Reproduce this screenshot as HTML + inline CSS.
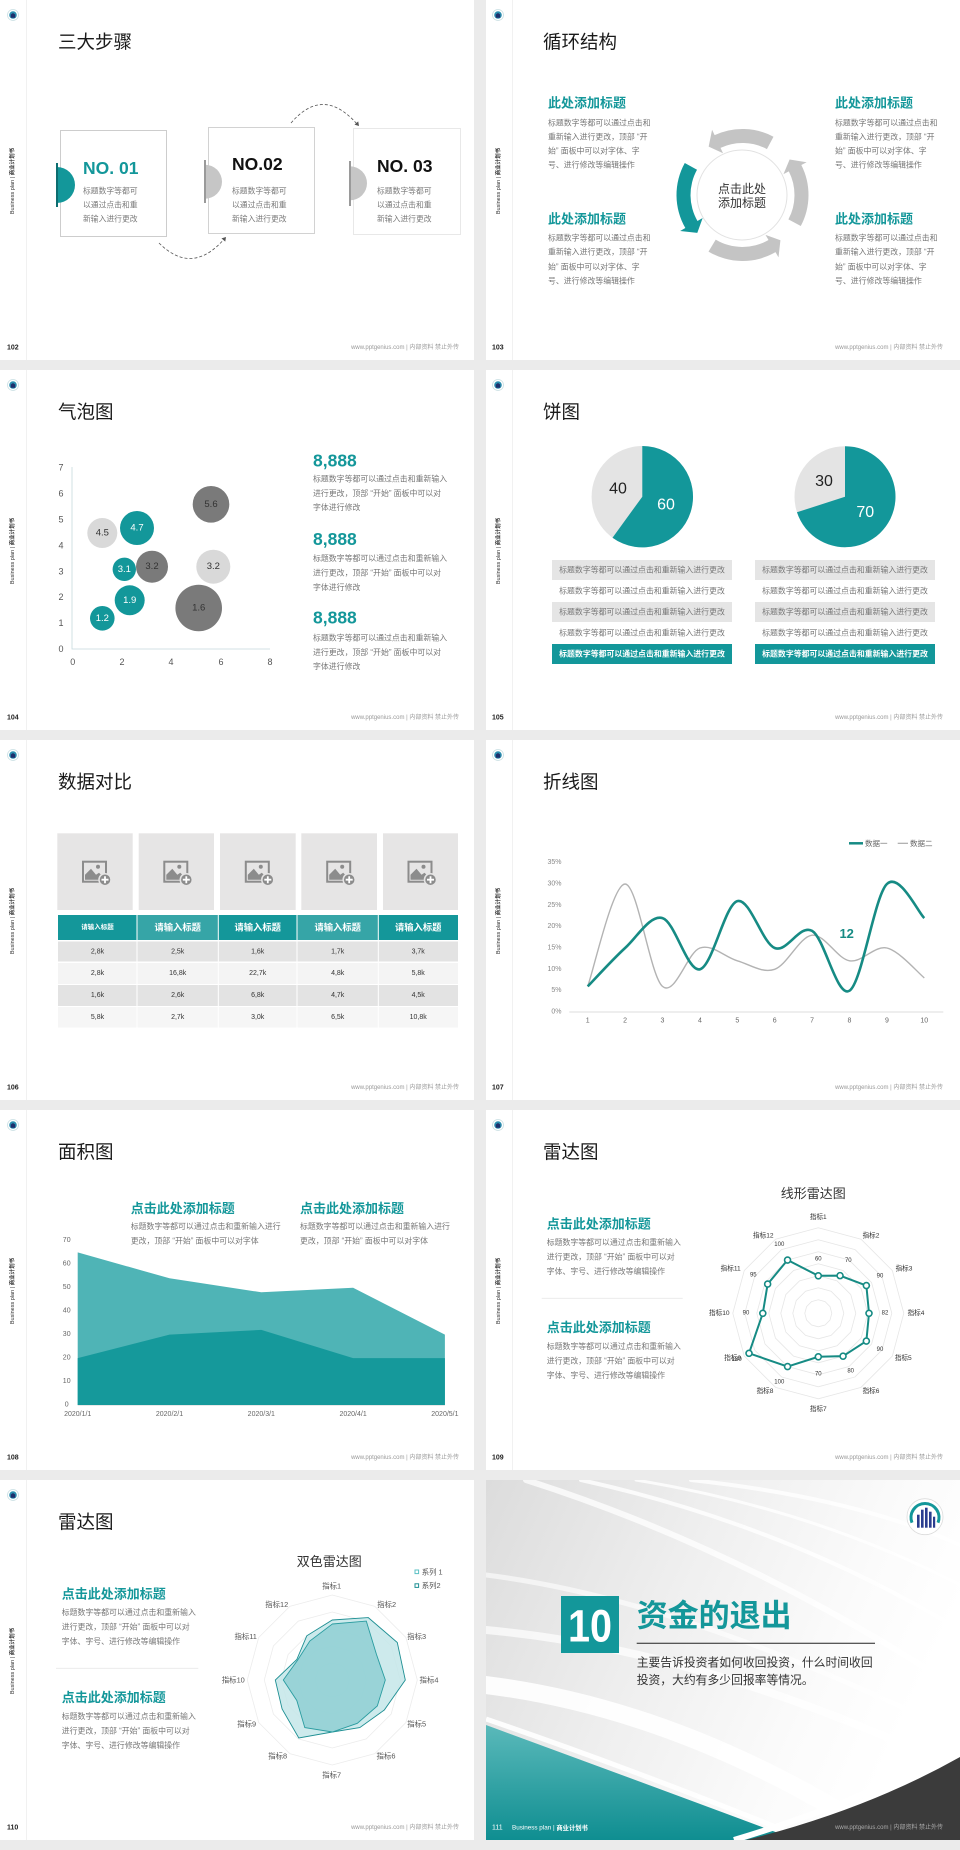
<!DOCTYPE html>
<html><head><meta charset="utf-8">
<style>
html,body{margin:0;padding:0;background:#ebebeb;}
#pg{position:relative;width:960px;height:1850px;background:#ebebeb;overflow:hidden;}
svg.s{position:absolute;display:block;}
text{font-family:"Liberation Sans","Noto Sans CJK SC",sans-serif;dominant-baseline:central;}
</style></head><body><div id="pg">

<svg width="0" height="0" style="position:absolute">
<defs>
<g id="logo"><circle r="5.5" fill="#fff" stroke="#c9dfe3" stroke-width="0.8"/><circle r="3.8" fill="#2b8fb0"/><path d="M-2.2,2.8 V-0.5 L0,-2 L2.2,-0.5 V2.8 Z" fill="#1f2f6b"/></g>
<path id="dodec" vector-effect="non-scaling-stroke" d="M0,-1 L0.5,-0.866 L0.866,-0.5 L1,0 L0.866,0.5 L0.5,0.866 L0,1 L-0.5,0.866 L-0.866,0.5 L-1,0 L-0.866,-0.5 L-0.5,-0.866 Z"/>
<g id="imgicon">
<rect x="-12" y="-10" width="23" height="20" fill="none" stroke="#8c8c8c" stroke-width="2"/>
<path d="M-10,8 L-10,3 L-4,-3 L1,3 L4,1 L9,6 L9,8 Z" fill="#8c8c8c"/>
<circle cx="3" cy="-5" r="2" fill="#8c8c8c"/>
<circle cx="10" cy="8" r="6" fill="#8c8c8c" stroke="#e6e5e5" stroke-width="1.5"/>
<path d="M10,4.5 V11.5 M6.5,8 H13.5" stroke="#fff" stroke-width="1.8"/>
</g>
<linearGradient id="g111bg" x1="0" y1="0" x2="1" y2="0.35">
<stop offset="0" stop-color="#dcdcdc"/><stop offset="0.45" stop-color="#efefef"/><stop offset="0.8" stop-color="#fbfbfb"/><stop offset="1" stop-color="#ffffff"/>
</linearGradient>
<linearGradient id="g111teal" x1="0" y1="0" x2="0" y2="1">
<stop offset="0" stop-color="#5ab9ba"/><stop offset="1" stop-color="#0f8e91"/>
</linearGradient>
</defs>
</svg>

<!-- 102 -->
<svg class="s" style="left:0;top:0" width="474" height="360" viewBox="0 0 474 360">
<rect width="474" height="360" fill="#fff"/>
<line x1="26.5" y1="0" x2="26.5" y2="360" stroke="#f1f1f1"/>
<use href="#logo" x="13" y="15"/>
<text transform="translate(13,181) rotate(-90)" text-anchor="middle" font-size="5.5" fill="#333">Business plan | <tspan font-weight="bold">商业计划书</tspan></text>
<text x="7" y="348" font-size="7" font-weight="bold" fill="#222">102</text>
<text x="459" y="348" font-size="6" fill="#999" text-anchor="end">www.pptgenius.com | 内部资料 禁止外传</text>
<text x="58" y="42" font-size="18.5" fill="#1a1a1a">三大步骤</text>

<rect x="60.5" y="130.5" width="106" height="106" fill="#fff" stroke="#cdcdcd"/>
<rect x="208.5" y="127.5" width="106" height="106" fill="#fff" stroke="#d2d2d2"/>
<rect x="353.5" y="128.5" width="107" height="106" fill="#fff" stroke="#e8e8e8"/>
<path d="M57,167 A18,18 0 0 1 57,203 Z" fill="#13979a"/>
<rect x="56" y="163" width="2" height="44" fill="#0d6d70"/>
<path d="M205,164.7 A17,17 0 0 1 205,198.7 Z" fill="#c6c6c6"/>
<rect x="204" y="160" width="2" height="43" fill="#9a9a9a"/>
<path d="M350,166.3 A17,17 0 0 1 350,200.3 Z" fill="#c6c6c6"/>
<rect x="349" y="161" width="2" height="45" fill="#9a9a9a"/>

<text x="83" y="168" font-size="17.5" font-weight="bold" fill="#13979a">NO. 01</text>
<text x="232" y="164" font-size="17.5" font-weight="bold" fill="#111">NO.02</text>
<text x="377" y="166" font-size="17.5" font-weight="bold" fill="#111">NO. 03</text>
<g font-size="7.8" fill="#7a7a7a">
<text x="83" y="191">标题数字等都可</text><text x="83" y="205">以通过点击和重</text><text x="83" y="219">新输入进行更改</text>
<text x="232" y="191">标题数字等都可</text><text x="232" y="205">以通过点击和重</text><text x="232" y="219">新输入进行更改</text>
<text x="377" y="191">标题数字等都可</text><text x="377" y="205">以通过点击和重</text><text x="377" y="219">新输入进行更改</text>
</g>
<path d="M159,243 Q192,276 224.5,238.7" fill="none" stroke="#555" stroke-width="0.8" stroke-dasharray="3,2"/>
<polygon points="226,237 225.26,241.66 221.48,238.38" fill="#555"/>
<path d="M291,123 Q323,85.5 357,124" fill="none" stroke="#555" stroke-width="0.8" stroke-dasharray="3,2"/>
<polygon points="359,126 354.47,124.67 358.21,121.35" fill="#555"/>
</svg>

<!-- 103 -->
<svg class="s" style="left:486px;top:0" width="474" height="360" viewBox="0 0 474 360">
<rect width="474" height="360" fill="#fff"/>
<line x1="26.5" y1="0" x2="26.5" y2="360" stroke="#f1f1f1"/>
<use href="#logo" x="12" y="15"/>
<text transform="translate(13,181) rotate(-90)" text-anchor="middle" font-size="5.5" fill="#333">Business plan | <tspan font-weight="bold">商业计划书</tspan></text>
<text x="6" y="348" font-size="7" font-weight="bold" fill="#222">103</text>
<text x="457" y="348" font-size="6" fill="#999" text-anchor="end">www.pptgenius.com | 内部资料 禁止外传</text>
<text x="57" y="42" font-size="18.5" fill="#1a1a1a">循环结构</text>

<g font-size="13" font-weight="bold" fill="#14979a">
<text x="62" y="103">此处添加标题</text><text x="349" y="103">此处添加标题</text>
<text x="62" y="219">此处添加标题</text><text x="349" y="219">此处添加标题</text>
</g>
<g font-size="7.9" fill="#777">
<text x="62" y="123">标题数字等都可以通过点击和</text><text x="62" y="137">重新输入进行更改，顶部 “开</text><text x="62" y="151">始” 面板中可以对字体、字</text><text x="62" y="165">号、进行修改等编辑操作</text>
<text x="349" y="123">标题数字等都可以通过点击和</text><text x="349" y="137">重新输入进行更改，顶部 “开</text><text x="349" y="151">始” 面板中可以对字体、字</text><text x="349" y="165">号、进行修改等编辑操作</text>
<text x="62" y="238">标题数字等都可以通过点击和</text><text x="62" y="252">重新输入进行更改，顶部 “开</text><text x="62" y="267">始” 面板中可以对字体、字</text><text x="62" y="281">号、进行修改等编辑操作</text>
<text x="349" y="238">标题数字等都可以通过点击和</text><text x="349" y="252">重新输入进行更改，顶部 “开</text><text x="349" y="267">始” 面板中可以对字体、字</text><text x="349" y="281">号、进行修改等编辑操作</text>
</g>
<circle cx="256" cy="195" r="45" fill="#fff" stroke="#e2e2e2" stroke-width="1"/>
<path d="M198.78,163 A66,66 0 0 0 199.34,228 L194.15,231 L211.3,232.93 L216.66,218 L211.47,221 A52,52 0 0 1 211.02,169.79 Z" fill="#13979a"/>
<path d="M222.51,251.57 A66,66 0 0 0 289.5,252.16 L292.5,257.35 L294.43,240.19 L279.5,234.84 L282.5,240.03 A52,52 0 0 1 229.72,239.57 Z" fill="#c4c4c4"/>
<path d="M314.77,225.99 A66,66 0 0 0 315.31,165.04 L320.65,162.31 L303.62,159.49 L297.49,174.12 L302.83,171.39 A52,52 0 0 1 302.41,219.41 Z" fill="#c4c4c4"/>
<path d="M287.49,136.73 A66,66 0 0 0 228.61,135.18 L226.07,129.75 L222.66,146.67 L237.06,153.31 L234.52,147.87 A52,52 0 0 1 280.91,149.09 Z" fill="#c4c4c4"/>
<text x="256" y="189" font-size="12" fill="#333" text-anchor="middle">点击此处</text>
<text x="256" y="203" font-size="12" fill="#333" text-anchor="middle">添加标题</text>
</svg>

<!-- 104 -->
<svg class="s" style="left:0;top:370px" width="474" height="360" viewBox="0 0 474 360">
<rect width="474" height="360" fill="#fff"/>
<line x1="26.5" y1="0" x2="26.5" y2="360" stroke="#f1f1f1"/>
<use href="#logo" x="13" y="15"/>
<text transform="translate(13,181) rotate(-90)" text-anchor="middle" font-size="5.5" fill="#333">Business plan | <tspan font-weight="bold">商业计划书</tspan></text>
<text x="7" y="348" font-size="7" font-weight="bold" fill="#222">104</text>
<text x="459" y="348" font-size="6" fill="#999" text-anchor="end">www.pptgenius.com | 内部资料 禁止外传</text>
<text x="58" y="42" font-size="18.5" fill="#1a1a1a">气泡图</text>

<path d="M72,97 V279 H270" fill="none" stroke="#c5d9dd" stroke-width="0.8"/>
<g font-size="9" fill="#555" text-anchor="middle">
<text x="61" y="279">0</text><text x="61" y="253.1">1</text><text x="61" y="227.2">2</text><text x="61" y="201.3">3</text><text x="61" y="175.4">4</text><text x="61" y="149.5">5</text><text x="61" y="123.6">6</text><text x="61" y="97.7">7</text>
<text x="72.7" y="292">0</text><text x="122" y="292">2</text><text x="171" y="292">4</text><text x="221" y="292">6</text><text x="270" y="292">8</text>
</g>
<circle cx="102.3" cy="163" r="15" fill="#d9d9d9"/>
<circle cx="211" cy="134.3" r="18.3" fill="#7a7a7a"/>
<circle cx="213.3" cy="196.7" r="17" fill="#d9d9d9"/>
<circle cx="198.7" cy="238" r="23.3" fill="#7a7a7a"/>
<circle cx="152" cy="196.7" r="16" fill="#7a7a7a"/>
<circle cx="124.3" cy="199.3" r="11.7" fill="#13979a"/>
<circle cx="129.7" cy="230.3" r="15" fill="#13979a"/>
<circle cx="102.3" cy="248.3" r="12.3" fill="#13979a"/>
<circle cx="137" cy="158" r="17" fill="#13979a"/>
<g font-size="9.5" text-anchor="middle">
<text x="102.3" y="163" fill="#333">4.5</text>
<text x="137" y="158" fill="#fff">4.7</text>
<text x="211" y="134.3" fill="#333">5.6</text>
<text x="213.3" y="196.7" fill="#333">3.2</text>
<text x="152" y="196.7" fill="#333">3.2</text>
<text x="124.3" y="199.3" fill="#fff">3.1</text>
<text x="129.7" y="230.3" fill="#fff">1.9</text>
<text x="102.3" y="248.3" fill="#fff">1.2</text>
<text x="198.7" y="238" fill="#333">1.6</text>
</g>
<g font-size="17.5" font-weight="bold" fill="#14979a">
<text x="313" y="90.7">8,888</text><text x="313" y="169">8,888</text><text x="313" y="247.7">8,888</text>
</g>
<g font-size="7.9" fill="#777">
<text x="313" y="109">标题数字等都可以通过点击和重新输入</text><text x="313" y="123.3">进行更改，顶部 “开始” 面板中可以对</text><text x="313" y="137.3">字体进行修改</text>
<text x="313" y="188.3">标题数字等都可以通过点击和重新输入</text><text x="313" y="203">进行更改，顶部 “开始” 面板中可以对</text><text x="313" y="217.3">字体进行修改</text>
<text x="313" y="268">标题数字等都可以通过点击和重新输入</text><text x="313" y="282.7">进行更改，顶部 “开始” 面板中可以对</text><text x="313" y="296.7">字体进行修改</text>
</g>
</svg>

<!-- 105 -->
<svg class="s" style="left:486px;top:370px" width="474" height="360" viewBox="0 0 474 360">
<rect width="474" height="360" fill="#fff"/>
<line x1="26.5" y1="0" x2="26.5" y2="360" stroke="#f1f1f1"/>
<use href="#logo" x="12" y="15"/>
<text transform="translate(13,181) rotate(-90)" text-anchor="middle" font-size="5.5" fill="#333">Business plan | <tspan font-weight="bold">商业计划书</tspan></text>
<text x="6" y="348" font-size="7" font-weight="bold" fill="#222">105</text>
<text x="457" y="348" font-size="6" fill="#999" text-anchor="end">www.pptgenius.com | 内部资料 禁止外传</text>
<text x="57" y="42" font-size="18.5" fill="#1a1a1a">饼图</text>

<circle cx="156.3" cy="126.7" r="50.7" fill="#e4e4e4"/>
<path d="M156.3,126.7 L156.3,76 A50.7,50.7 0 1 1 126.5,167.7 Z" fill="#13979a"/>
<circle cx="359" cy="126.7" r="50.5" fill="#e4e4e4"/>
<path d="M359,126.7 L359,76.2 A50.5,50.5 0 1 1 310.97,142.3 Z" fill="#13979a"/>
<g font-size="16" text-anchor="middle">
<text x="132" y="119" fill="#222">40</text><text x="180" y="135" fill="#fff">60</text>
<text x="338" y="111.7" fill="#222">30</text><text x="379.3" y="142.3" fill="#fff">70</text>
</g>
<rect x="66" y="190" width="180" height="20" fill="#e5e5e5"/>
<rect x="66" y="232" width="180" height="20" fill="#e5e5e5"/>
<rect x="66" y="274" width="180" height="20" fill="#13979a"/>
<rect x="269" y="190" width="180" height="20" fill="#e5e5e5"/>
<rect x="269" y="232" width="180" height="20" fill="#e5e5e5"/>
<rect x="269" y="274" width="180" height="20" fill="#13979a"/>
<g font-size="7.9" fill="#777" text-anchor="middle">
<text x="156" y="200">标题数字等都可以通过点击和重新输入进行更改</text>
<text x="156" y="221">标题数字等都可以通过点击和重新输入进行更改</text>
<text x="156" y="242">标题数字等都可以通过点击和重新输入进行更改</text>
<text x="156" y="263">标题数字等都可以通过点击和重新输入进行更改</text>
<text x="359" y="200">标题数字等都可以通过点击和重新输入进行更改</text>
<text x="359" y="221">标题数字等都可以通过点击和重新输入进行更改</text>
<text x="359" y="242">标题数字等都可以通过点击和重新输入进行更改</text>
<text x="359" y="263">标题数字等都可以通过点击和重新输入进行更改</text>
<text x="156" y="284" fill="#fff" font-weight="bold">标题数字等都可以通过点击和重新输入进行更改</text>
<text x="359" y="284" fill="#fff" font-weight="bold">标题数字等都可以通过点击和重新输入进行更改</text>
</g>
</svg>

<!-- 106 -->
<svg class="s" style="left:0;top:740px" width="474" height="360" viewBox="0 0 474 360">
<rect width="474" height="360" fill="#fff"/>
<line x1="26.5" y1="0" x2="26.5" y2="360" stroke="#f1f1f1"/>
<use href="#logo" x="13" y="15"/>
<text transform="translate(13,181) rotate(-90)" text-anchor="middle" font-size="5.5" fill="#333">Business plan | <tspan font-weight="bold">商业计划书</tspan></text>
<text x="7" y="348" font-size="7" font-weight="bold" fill="#222">106</text>
<text x="459" y="348" font-size="6" fill="#999" text-anchor="end">www.pptgenius.com | 内部资料 禁止外传</text>
<text x="58" y="42" font-size="18.5" fill="#1a1a1a">数据对比</text>

<g fill="#e6e5e5">
<rect x="57.3" y="93.3" width="75.4" height="76.7"/>
<rect x="138.7" y="93.3" width="75.3" height="76.7"/>
<rect x="220" y="93.3" width="75.7" height="76.7"/>
<rect x="301.3" y="93.3" width="75.7" height="76.7"/>
<rect x="383" y="93.3" width="75" height="76.7"/>
</g>
<use href="#imgicon" x="95" y="131.7"/>
<use href="#imgicon" x="176.3" y="131.7"/>
<use href="#imgicon" x="257.8" y="131.7"/>
<use href="#imgicon" x="339.2" y="131.7"/>
<use href="#imgicon" x="420.5" y="131.7"/>

<rect x="58" y="175" width="79" height="25" fill="#14979a"/>
<rect x="137" y="175" width="81.3" height="25" fill="#36a5a7"/>
<rect x="218.3" y="175" width="78.7" height="25" fill="#14979a"/>
<rect x="297" y="175" width="81.3" height="25" fill="#36a5a7"/>
<rect x="378.3" y="175" width="79.7" height="25" fill="#14979a"/>
<rect x="58" y="201.5" width="400" height="20" fill="#e3e3e3"/>
<rect x="58" y="223" width="400" height="21" fill="#f4f4f4"/>
<rect x="58" y="245" width="400" height="21" fill="#e3e3e3"/>
<rect x="58" y="267" width="400" height="20.5" fill="#f6f6f6"/>
<g stroke="#fff" stroke-width="1">
<line x1="137" y1="175" x2="137" y2="288"/><line x1="218.3" y1="175" x2="218.3" y2="288"/><line x1="297" y1="175" x2="297" y2="288"/><line x1="378.3" y1="175" x2="378.3" y2="288"/>
</g>
<g fill="#fff" font-weight="bold" text-anchor="middle">
<text x="97.5" y="187.5" font-size="6.5">请输入标题</text>
<text x="177.7" y="187.5" font-size="9.3">请输入标题</text>
<text x="257.7" y="187.5" font-size="9.3">请输入标题</text>
<text x="337.7" y="187.5" font-size="9.3">请输入标题</text>
<text x="418.2" y="187.5" font-size="9.3">请输入标题</text>
</g>
<g font-size="7" fill="#333" text-anchor="middle">
<text x="97.5" y="212">2,8k</text><text x="177.7" y="212">2,5k</text><text x="257.7" y="212">1,6k</text><text x="337.7" y="212">1,7k</text><text x="418.2" y="212">3,7k</text>
<text x="97.5" y="233.7">2,8k</text><text x="177.7" y="233.7">16,8k</text><text x="257.7" y="233.7">22,7k</text><text x="337.7" y="233.7">4,8k</text><text x="418.2" y="233.7">5,8k</text>
<text x="97.5" y="255.7">1,6k</text><text x="177.7" y="255.7">2,6k</text><text x="257.7" y="255.7">6,8k</text><text x="337.7" y="255.7">4,7k</text><text x="418.2" y="255.7">4,5k</text>
<text x="97.5" y="277.3">5,8k</text><text x="177.7" y="277.3">2,7k</text><text x="257.7" y="277.3">3,0k</text><text x="337.7" y="277.3">6,5k</text><text x="418.2" y="277.3">10,8k</text>
</g>
</svg>

<!-- 107 -->
<svg class="s" style="left:486px;top:740px" width="474" height="360" viewBox="0 0 474 360">
<rect width="474" height="360" fill="#fff"/>
<line x1="26.5" y1="0" x2="26.5" y2="360" stroke="#f1f1f1"/>
<use href="#logo" x="12" y="15"/>
<text transform="translate(13,181) rotate(-90)" text-anchor="middle" font-size="5.5" fill="#333">Business plan | <tspan font-weight="bold">商业计划书</tspan></text>
<text x="6" y="348" font-size="7" font-weight="bold" fill="#222">107</text>
<text x="457" y="348" font-size="6" fill="#999" text-anchor="end">www.pptgenius.com | 内部资料 禁止外传</text>
<text x="57" y="42" font-size="18.5" fill="#1a1a1a">折线图</text>

<line x1="363" y1="103.3" x2="377" y2="103.3" stroke="#168b84" stroke-width="2.5"/>
<text x="379" y="103.3" font-size="7.5" fill="#666">数据一</text>
<line x1="411.7" y1="103.3" x2="422" y2="103.3" stroke="#aaa" stroke-width="1.2"/>
<text x="424" y="103.3" font-size="7.5" fill="#666">数据二</text>

<g font-size="7" fill="#888" text-anchor="end">
<text x="75.5" y="272">0%</text><text x="75.5" y="250.7">5%</text><text x="75.5" y="229.3">10%</text><text x="75.5" y="208">15%</text><text x="75.5" y="186.7">20%</text><text x="75.5" y="165.3">25%</text><text x="75.5" y="144">30%</text><text x="75.5" y="122.7">35%</text>
</g>
<line x1="83.3" y1="272" x2="457.3" y2="272" stroke="#d0d0d0" stroke-width="0.8"/>
<g font-size="7" fill="#666" text-anchor="middle">
<text x="101.7" y="281">1</text><text x="139.1" y="281">2</text><text x="176.5" y="281">3</text><text x="213.9" y="281">4</text><text x="251.3" y="281">5</text><text x="288.7" y="281">6</text><text x="326.1" y="281">7</text><text x="363.5" y="281">8</text><text x="400.9" y="281">9</text><text x="438.3" y="281">10</text>
</g>
<path d="M101.7,246.4 C107.93,229.33 126.63,144 139.1,144 C151.57,144 164.03,235.73 176.5,246.4 C188.97,257.07 201.43,212.27 213.9,208 C226.37,203.73 238.83,217.25 251.3,220.8 C263.77,224.35 276.23,233.57 288.7,229.3 C301.17,225.03 313.63,196.62 326.1,195.2 C338.57,193.78 351.03,218.67 363.5,220.8 C375.97,222.93 388.43,205.15 400.9,208 C413.37,210.85 432.07,232.92 438.3,237.9" fill="none" stroke="#b3b3b3" stroke-width="1.4"/>
<path d="M101.7,246.4 C107.93,240 126.63,219.38 139.1,208 C151.57,196.62 164.03,174.55 176.5,178.1 C188.97,181.65 201.43,232.13 213.9,229.3 C226.37,226.47 238.83,164.65 251.3,161.1 C263.77,157.55 276.23,203.03 288.7,208 C301.17,212.97 313.63,183.78 326.1,190.9 C338.57,198.02 351.03,258.52 363.5,250.7 C375.97,242.88 388.43,156.1 400.9,144 C413.37,131.9 432.07,172.42 438.3,178.1" fill="none" stroke="#168b84" stroke-width="2.6"/>
<text x="360.7" y="193.3" font-size="13" font-weight="bold" fill="#168b84" text-anchor="middle">12</text>
</svg>

<!-- 108 -->
<svg class="s" style="left:0;top:1110px" width="474" height="360" viewBox="0 0 474 360">
<rect width="474" height="360" fill="#fff"/>
<line x1="26.5" y1="0" x2="26.5" y2="360" stroke="#f1f1f1"/>
<use href="#logo" x="13" y="15"/>
<text transform="translate(13,181) rotate(-90)" text-anchor="middle" font-size="5.5" fill="#333">Business plan | <tspan font-weight="bold">商业计划书</tspan></text>
<text x="7" y="348" font-size="7" font-weight="bold" fill="#222">108</text>
<text x="459" y="348" font-size="6" fill="#999" text-anchor="end">www.pptgenius.com | 内部资料 禁止外传</text>
<text x="58" y="42" font-size="18.5" fill="#1a1a1a">面积图</text>

<g font-size="13" font-weight="bold" fill="#14979a">
<text x="130.7" y="98.3">点击此处添加标题</text><text x="300" y="98.3">点击此处添加标题</text>
</g>
<g font-size="7.9" fill="#777">
<text x="130.7" y="116.7">标题数字等都可以通过点击和重新输入进行</text><text x="130.7" y="131">更改，顶部 “开始” 面板中可以对字体</text>
<text x="300" y="116.7">标题数字等都可以通过点击和重新输入进行</text><text x="300" y="131">更改，顶部 “开始” 面板中可以对字体</text>
</g>
<g font-size="7" fill="#666" text-anchor="middle">
<text x="66.7" y="295">0</text><text x="66.7" y="271.5">10</text><text x="66.7" y="248.1">20</text><text x="66.7" y="224.6">30</text><text x="66.7" y="201.1">40</text><text x="66.7" y="177.7">50</text><text x="66.7" y="154.2">60</text><text x="66.7" y="130.7">70</text>
<text x="77.7" y="304.3">2020/1/1</text><text x="169.5" y="304.3">2020/2/1</text><text x="261.3" y="304.3">2020/3/1</text><text x="353.1" y="304.3">2020/4/1</text><text x="444.9" y="304.3">2020/5/1</text>
</g>
<path d="M77.7,295 L77.7,142.4 L169.5,168.3 L261.3,182.3 L353.1,177.7 L444.9,224.6 L444.9,295 Z" fill="#4fb4b6"/>
<path d="M77.7,295 L77.7,248.1 L169.5,224.6 L261.3,219.9 L353.1,248.1 L444.9,248.1 L444.9,295 Z" fill="#15999b"/>
<line x1="77.7" y1="295.3" x2="444.9" y2="295.3" stroke="#d9d9d9" stroke-width="0.6"/>
</svg>

<!-- 109 -->
<svg class="s" style="left:486px;top:1110px" width="474" height="360" viewBox="0 0 474 360">
<rect width="474" height="360" fill="#fff"/>
<line x1="26.5" y1="0" x2="26.5" y2="360" stroke="#f1f1f1"/>
<use href="#logo" x="12" y="15"/>
<text transform="translate(13,181) rotate(-90)" text-anchor="middle" font-size="5.5" fill="#333">Business plan | <tspan font-weight="bold">商业计划书</tspan></text>
<text x="6" y="348" font-size="7" font-weight="bold" fill="#222">109</text>
<text x="457" y="348" font-size="6" fill="#999" text-anchor="end">www.pptgenius.com | 内部资料 禁止外传</text>
<text x="57" y="42" font-size="18.5" fill="#1a1a1a">雷达图</text>

<g font-size="13" font-weight="bold" fill="#14979a">
<text x="60.7" y="114">点击此处添加标题</text><text x="60.7" y="217.7">点击此处添加标题</text>
</g>
<g font-size="7.9" fill="#777">
<text x="60.7" y="132.7">标题数字等都可以通过点击和重新输入</text><text x="60.7" y="147">进行更改，顶部 “开始” 面板中可以对</text><text x="60.7" y="161.3">字体、字号、进行修改等编辑操作</text>
<text x="60.7" y="236.7">标题数字等都可以通过点击和重新输入</text><text x="60.7" y="251">进行更改，顶部 “开始” 面板中可以对</text><text x="60.7" y="265.3">字体、字号、进行修改等编辑操作</text>
</g>
<line x1="55.7" y1="188.3" x2="196.7" y2="188.3" stroke="#e8e8e8" stroke-width="0.8"/>
<text x="327.3" y="83.3" font-size="13" fill="#333" text-anchor="middle">线形雷达图</text>
<g fill="none" stroke="#e6e6e6" stroke-width="0.8">
<use href="#dodec" transform="translate(332.3,203.3) scale(13.5)"/>
<use href="#dodec" transform="translate(332.3,203.3) scale(25.5)"/>
<use href="#dodec" transform="translate(332.3,203.3) scale(37.5)"/>
<use href="#dodec" transform="translate(332.3,203.3) scale(49.5)"/>
<use href="#dodec" transform="translate(332.3,203.3) scale(61.5)"/>
<use href="#dodec" transform="translate(332.3,203.3) scale(73.5)"/>
<use href="#dodec" transform="translate(332.3,203.3) scale(85.5)"/>
</g>
<g font-size="6.6" fill="#333" text-anchor="middle">
<text x="332.3" y="107.7">指标1</text><text x="385" y="126">指标2</text><text x="418" y="159">指标3</text><text x="430" y="203.3">指标4</text><text x="417.3" y="248.3">指标5</text><text x="385" y="281.7">指标6</text><text x="332.3" y="299.3">指标7</text><text x="279" y="281.7">指标8</text><text x="246.7" y="248.3">指标9</text><text x="233.3" y="203.3">指标10</text><text x="244.7" y="159">指标11</text><text x="277.3" y="126">指标12</text>
</g>
<g font-size="6" fill="#333" text-anchor="middle">
<text x="332.3" y="149.3">60</text><text x="362.3" y="151">70</text><text x="394" y="166.7">90</text><text x="399" y="203.3">82</text><text x="394" y="240">90</text><text x="364.7" y="261.7">80</text><text x="332.3" y="264.3">70</text><text x="293.3" y="272.3">100</text><text x="250.7" y="250">130</text><text x="260" y="203.3">90</text><text x="267.3" y="165.7">95</text><text x="293.3" y="135">100</text>
</g>
<polygon points="332.3,165.8 354.05,165.63 380.36,175.55 383,203.3 380.36,231.05 357.05,246.17 332.3,246.8 301.55,256.56 263.02,243.3 276.8,203.3 281.64,174.05 301.55,150.04" fill="none" stroke="#168b84" stroke-width="2"/>
<g fill="#fff" stroke="#168b84" stroke-width="1.6">
<circle cx="332.3" cy="165.8" r="3"/><circle cx="354.05" cy="165.63" r="3"/><circle cx="380.36" cy="175.55" r="3"/><circle cx="383" cy="203.3" r="3"/><circle cx="380.36" cy="231.05" r="3"/><circle cx="357.05" cy="246.17" r="3"/><circle cx="332.3" cy="246.8" r="3"/><circle cx="301.55" cy="256.56" r="3"/><circle cx="263.02" cy="243.3" r="3"/><circle cx="276.8" cy="203.3" r="3"/><circle cx="281.64" cy="174.05" r="3"/><circle cx="301.55" cy="150.04" r="3"/>
</g>
</svg>

<!-- 110 -->
<svg class="s" style="left:0;top:1480px" width="474" height="360" viewBox="0 0 474 360">
<rect width="474" height="360" fill="#fff"/>
<line x1="26.5" y1="0" x2="26.5" y2="360" stroke="#f1f1f1"/>
<use href="#logo" x="13" y="15"/>
<text transform="translate(13,181) rotate(-90)" text-anchor="middle" font-size="5.5" fill="#333">Business plan | <tspan font-weight="bold">商业计划书</tspan></text>
<text x="7" y="348" font-size="7" font-weight="bold" fill="#222">110</text>
<text x="459" y="348" font-size="6" fill="#999" text-anchor="end">www.pptgenius.com | 内部资料 禁止外传</text>
<text x="58" y="42" font-size="18.5" fill="#1a1a1a">雷达图</text>

<g font-size="13" font-weight="bold" fill="#14979a">
<text x="61.7" y="114">点击此处添加标题</text><text x="61.7" y="217.7">点击此处添加标题</text>
</g>
<g font-size="7.9" fill="#777">
<text x="61.7" y="132.7">标题数字等都可以通过点击和重新输入</text><text x="61.7" y="147">进行更改，顶部 “开始” 面板中可以对</text><text x="61.7" y="161.3">字体、字号、进行修改等编辑操作</text>
<text x="61.7" y="236.7">标题数字等都可以通过点击和重新输入</text><text x="61.7" y="251">进行更改，顶部 “开始” 面板中可以对</text><text x="61.7" y="265.3">字体、字号、进行修改等编辑操作</text>
</g>
<line x1="56" y1="188.3" x2="198.3" y2="188.3" stroke="#e8e8e8" stroke-width="0.8"/>
<text x="329.3" y="81.7" font-size="13" fill="#333" text-anchor="middle">双色雷达图</text>
<rect x="415" y="90" width="3.6" height="3.6" fill="#fff" stroke="#5bc0c4" stroke-width="1"/>
<text x="421.7" y="91.8" font-size="7.4" fill="#555">系列 1</text>
<rect x="415" y="103.8" width="3.6" height="3.6" fill="#fff" stroke="#1e8f93" stroke-width="1"/>
<text x="421.7" y="105.6" font-size="7.4" fill="#555">系列2</text>
<g fill="none" stroke="#ececec" stroke-width="0.8">
<use href="#dodec" transform="translate(332.3,200) scale(17)"/>
<use href="#dodec" transform="translate(332.3,200) scale(34)"/>
<use href="#dodec" transform="translate(332.3,200) scale(51)"/>
<use href="#dodec" transform="translate(332.3,200) scale(68)"/>
<use href="#dodec" transform="translate(332.3,200) scale(85)"/>
</g>
<g font-size="7.4" fill="#555" text-anchor="middle">
<text x="331.7" y="106">指标1</text><text x="386.7" y="124.3">指标2</text><text x="416.7" y="156.7">指标3</text><text x="429" y="200">指标4</text><text x="416.7" y="244">指标5</text><text x="386" y="276">指标6</text><text x="331.7" y="295">指标7</text><text x="277.7" y="276">指标8</text><text x="246.7" y="244">指标9</text><text x="233.3" y="200">指标10</text><text x="245.7" y="156.7">指标11</text><text x="276.7" y="124.3">指标12</text>
</g>
<polygon points="332.3,140 368.3,137.6 397.3,162.5 405.3,200 384.3,230 359.8,247.6 332.3,252 298.8,258 282.1,229 275.3,200 296.8,179.5 306.8,155.8" fill="#c4e6e9" fill-opacity="0.85" stroke="#1e8f93" stroke-width="0.9"/>
<polygon points="332.3,144 366.3,141.1 376.5,174.5 385.3,200 377.3,226 357.3,243.3 332.3,252 304.8,247.6 296.8,220.5 283.3,200 297.7,180 309.8,161" fill="#8fcfd4" fill-opacity="0.85" stroke="#2a9ca0" stroke-width="0.9"/>
</svg>

<!-- 111 -->
<svg class="s" style="left:486px;top:1480px" width="474" height="360" viewBox="0 0 474 360">
<rect width="474" height="360" fill="url(#g111bg)"/>
<g fill="none" stroke="#fff" stroke-linecap="round">
<path d="M40,0 Q260,70 474,210" stroke-width="6" stroke-opacity="0.75"/>
<path d="M95,0 Q300,45 474,150" stroke-width="4" stroke-opacity="0.8"/>
<path d="M150,0 Q330,30 474,105" stroke-width="3" stroke-opacity="0.8"/>
<path d="M205,0 Q370,18 474,65" stroke-width="4" stroke-opacity="0.8"/>
<path d="M0,95 Q200,120 474,255" stroke-width="5" stroke-opacity="0.6"/>
<path d="M0,150 Q220,170 474,290" stroke-width="8" stroke-opacity="0.7"/>
<path d="M0,205 Q200,230 400,360" stroke-width="18" stroke-opacity="0.9"/>
</g>
<path d="M0,245 Q150,300 311,360 L0,360 Z" fill="url(#g111teal)"/>
<path d="M0,239 Q155,292 322,360" fill="none" stroke="#fff" stroke-width="5" stroke-opacity="0.9"/>
<path d="M260,360 Q380,330 474,277 L474,360 Z" fill="#3b3b3b"/>
<path d="M248,360 Q375,322 474,268" fill="none" stroke="#fff" stroke-width="6"/>

<rect x="75" y="116" width="58" height="57" fill="#13979a"/>
<text x="104" y="146" font-size="45" font-weight="bold" fill="#fff" text-anchor="middle" textLength="44" lengthAdjust="spacingAndGlyphs">10</text>
<text x="150.7" y="136" font-size="31" font-weight="bold" fill="#14979a">资金的退出</text>
<line x1="150.7" y1="163.3" x2="389" y2="163.3" stroke="#222" stroke-width="1"/>
<text x="150.7" y="182.7" font-size="11.8" fill="#333">主要告诉投资者如何收回投资，什么时间收回</text>
<text x="150.7" y="200" font-size="11.8" fill="#333">投资，大约有多少回报率等情况。</text>

<g transform="translate(439,36.7)">
<circle r="18" fill="#fff" stroke="#dcdcdc" stroke-width="0.8"/>
<path d="M-13,6 A14,14 0 1 1 13,6" fill="none" stroke="#13979a" stroke-width="3"/>
<rect x="-8" y="-2" width="2.6" height="13" fill="#2a3d8f"/>
<rect x="-4" y="-7" width="2.6" height="18" fill="#2a3d8f"/>
<rect x="0" y="-9" width="2.6" height="20" fill="#2a3d8f"/>
<rect x="4" y="-5" width="2.6" height="16" fill="#2a3d8f"/>
<rect x="8" y="0" width="2.2" height="11" fill="#2a3d8f"/>
</g>
<text x="6" y="348" font-size="7" fill="#fff">111</text>
<text x="26" y="348" font-size="6.3" fill="#fff">Business plan | <tspan font-weight="bold">商业计划书</tspan></text>
<text x="457" y="348" font-size="6" fill="#aaa" text-anchor="end">www.pptgenius.com | 内部资料 禁止外传</text>
</svg>

</div></body></html>
